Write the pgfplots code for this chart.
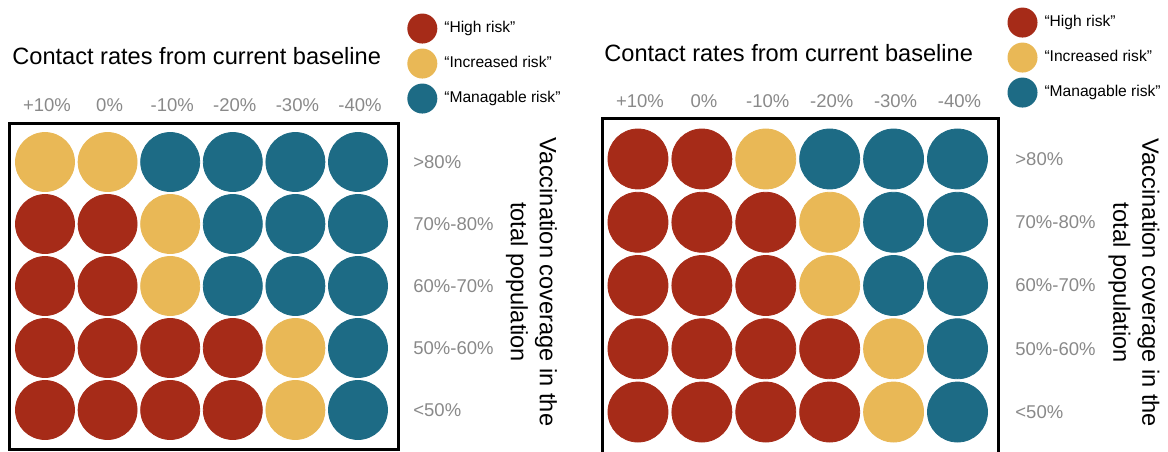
\documentclass[border=0pt]{standalone}
\usepackage{fontspec}
\setmainfont{Liberation Sans}
\usepackage{pgfplots}
\pgfplotsset{compat=1.18}
\definecolor{hr}{RGB}{166,43,24}
\definecolor{ir}{RGB}{233,184,86}
\definecolor{mr}{RGB}{29,107,133}
\definecolor{tg}{RGB}{137,137,137}
\pgfplotsset{
  riskpanel/.style={
    scale only axis,
    axis line style={line width=1.5pt, black},
    xtick={0,...,5}, ytick={0,...,4},
    xticklabels={+10\%,0\%,-10\%,-20\%,-30\%,-40\%},
    yticklabels={<50\%,50\%-60\%,60\%-70\%,70\%-80\%,>80\%},
    xticklabel pos=top, yticklabel pos=right,
    major tick length=0pt,
    tick style={draw=none},
    xticklabel style={font=\fontsize{9.25}{11}\selectfont, text=tg, anchor=base, inner sep=0pt},
    yticklabel style={font=\fontsize{9.25}{11}\selectfont, text=tg, anchor=west, inner sep=0pt},
    every axis title/.style={font=\fontsize{11.8}{14}\selectfont, anchor=base west, inner sep=0pt},
    ylabel={Vaccination coverage in the\\total population},
    legend style={draw=none, fill=none, anchor=north west, inner sep=0pt,
      row sep=2.5pt, column sep=3.5pt, cells={anchor=west},
      nodes={inner sep=0pt, font=\fontsize{7.8}{9}\selectfont}},
    legend image code/.code={\fill[##1, draw=none] (7.5pt,0pt) circle (7.5pt);},
  }
}
\begin{document}
\begin{tikzpicture}
% ---------- left panel ----------
\begin{axis}[riskpanel,
  at={(5pt,-61.5pt)}, anchor=north west,
  width=194pt, height=163pt,
  xmin=-0.559, xmax=5.639, ymin=-0.629, ymax=4.629,
  xticklabel style={yshift=6pt, xshift=1pt},
  yticklabel style={xshift=7.5pt},
  title={Contact rates from current baseline},
  title style={at={(0.005,1.178)}},
  every axis y label/.style={at={(1.344,0.512)}, rotate=-90, anchor=center, align=center, font=\fontsize{11.8}{14.5}\selectfont},
  legend style={at={(1.023,1.337)}},
]
\addplot[only marks, mark=*, color=hr, fill=hr, mark size=14.75pt, mark options={draw=none}] coordinates {
 (0,3) (1,3) (0,2) (1,2) (0,1) (1,1) (2,1) (3,1) (0,0) (1,0) (2,0) (3,0)};
\addplot[only marks, mark=*, color=ir, fill=ir, mark size=14.75pt, mark options={draw=none}] coordinates {
 (0,4) (1,4) (2,3) (2,2) (4,1) (4,0)};
\addplot[only marks, mark=*, color=mr, fill=mr, mark size=14.75pt, mark options={draw=none}] coordinates {
 (2,4) (3,4) (4,4) (5,4) (3,3) (4,3) (5,3) (3,2) (4,2) (5,2) (5,1) (5,0)};
\legend{“High risk”,“Increased risk”,“Managable risk”}
\end{axis}
% ---------- right panel ----------
\begin{axis}[riskpanel,
  at={(301pt,-59pt)}, anchor=north west,
  width=198pt, height=170pt,
  xmin=-0.563, xmax=5.634, ymin=-0.727, ymax=4.648,
  xticklabel style={yshift=5.5pt, xshift=1pt},
  yticklabel style={xshift=8.5pt},
  title={Contact rates from current baseline},
  title style={at={(0.005,1.165)}},
  every axis y label/.style={at={(1.343,0.515)}, rotate=-90, anchor=center, align=center, font=\fontsize{11.8}{14.5}\selectfont},
  legend style={at={(1.023,1.326)}},
]
\addplot[only marks, mark=*, color=hr, fill=hr, mark size=15pt, mark options={draw=none}] coordinates {
 (0,4) (1,4) (0,3) (1,3) (2,3) (0,2) (1,2) (2,2) (0,1) (1,1) (2,1) (3,1) (0,0) (1,0) (2,0) (3,0)};
\addplot[only marks, mark=*, color=ir, fill=ir, mark size=15pt, mark options={draw=none}] coordinates {
 (2,4) (3,3) (3,2) (4,1) (4,0)};
\addplot[only marks, mark=*, color=mr, fill=mr, mark size=15pt, mark options={draw=none}] coordinates {
 (3,4) (4,4) (5,4) (4,3) (5,3) (4,2) (5,2) (5,1) (5,0)};
\legend{“High risk”,“Increased risk”,“Managable risk”}
\end{axis}
\pgfresetboundingbox
\path[use as bounding box] (0,0) rectangle (584pt,-225.5pt);
\end{tikzpicture}
\end{document}
